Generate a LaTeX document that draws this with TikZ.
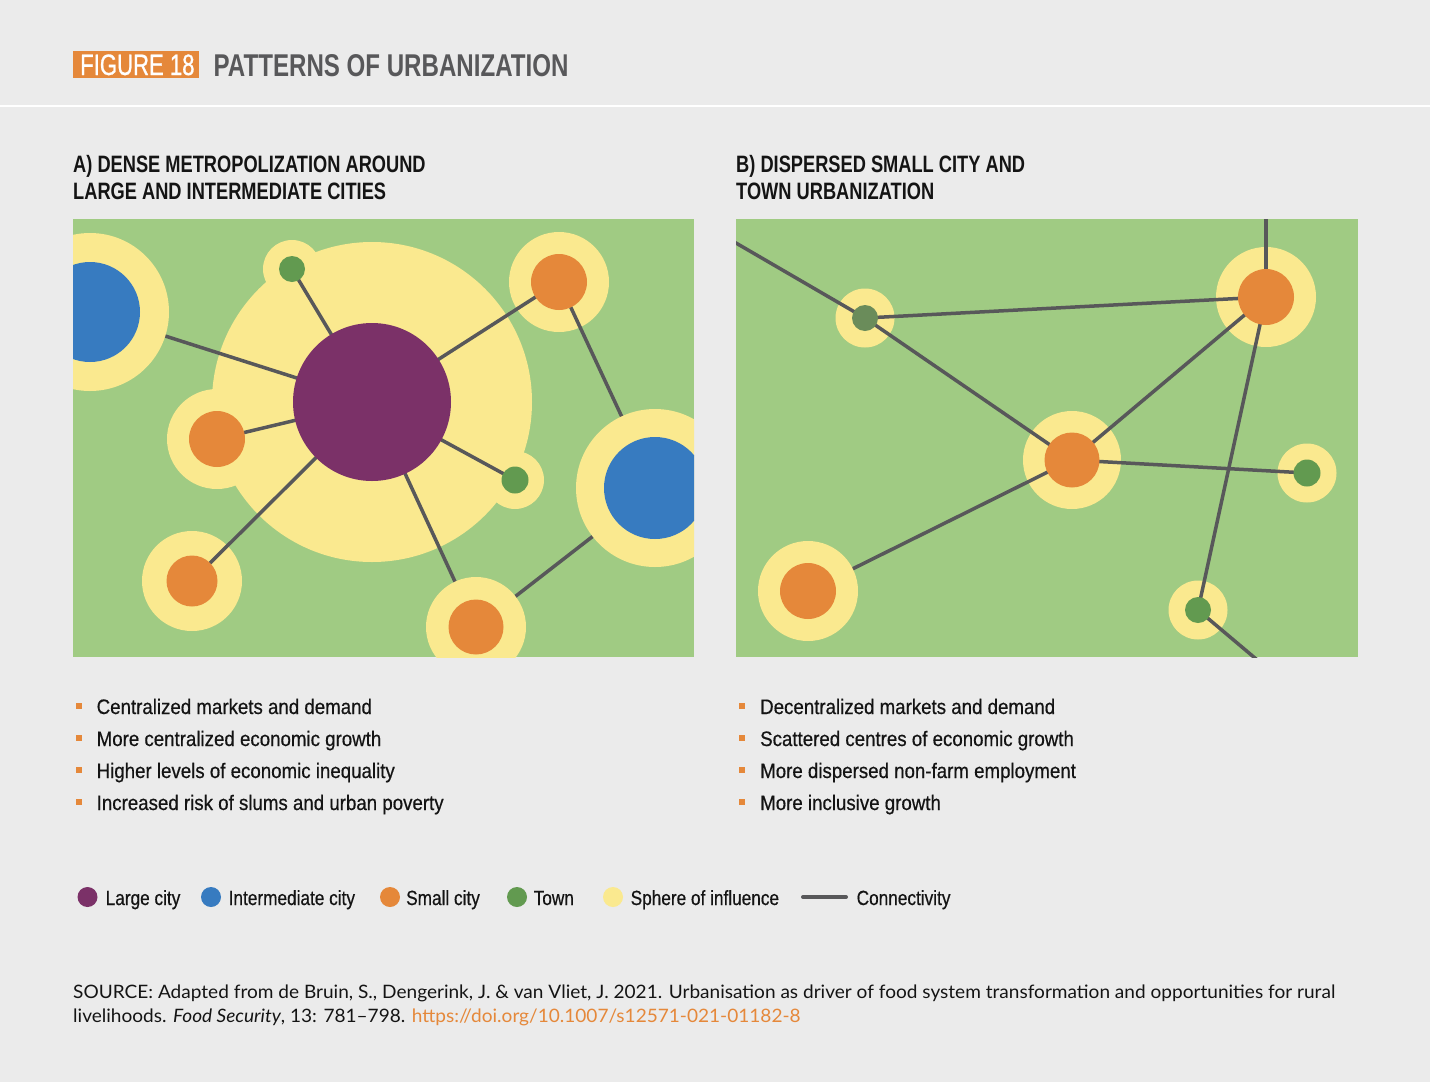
\documentclass[tikz,border=0pt]{standalone}
\usepackage{fontspec}
\setmainfont{Liberation Sans}
\newfontfamily\figfont{Liberation Sans}[FakeStretch=0.75,FakeBold=0.8]
\newfontfamily\titlefont{Liberation Sans}[FakeStretch=0.765]
\newfontfamily\headfont{Liberation Sans}[FakeStretch=0.77]
\newfontfamily\bodyfont{Liberation Sans}[FakeStretch=0.89,FakeBold=0.5]
\newfontfamily\legfont{Liberation Sans}[FakeStretch=0.84,FakeBold=0.5]
\newfontfamily\srcfont{Lato}[FakeStretch=1.03]
\definecolor{bgc}{HTML}{EBEBEB}
\definecolor{field}{HTML}{A0CB83}
\definecolor{yel}{HTML}{FAE98F}
\definecolor{purp}{HTML}{7B3168}
\definecolor{blu}{HTML}{377BC0}
\definecolor{ora}{HTML}{E5883A}
\definecolor{twn}{HTML}{629A50}
\definecolor{twnb}{HTML}{6A8C5A}
\definecolor{linec}{HTML}{58585A}
\definecolor{ink}{HTML}{141414}
\tikzset{
  sph/.style={circle,fill=yel,inner sep=0pt,minimum size=#1pt},
  core/.style={circle,inner sep=0pt,minimum size=#1pt},
  link/.style={draw=linec,line width=3.5pt},
  bodytxt/.style={anchor=base west,inner sep=0pt,text=ink,font=\bodyfont\fontsize{21}{25}\selectfont},
  legtxt/.style={anchor=base west,inner sep=0pt,text=ink,font=\legfont\fontsize{20.5}{25}\selectfont},
  headtxt/.style={anchor=base west,inner sep=0pt,text=ink,font=\headfont\bfseries\fontsize{23.7}{28}\selectfont},
  srctxt/.style={anchor=base west,inner sep=0pt,text=ink,font=\srcfont\fontsize{18.5}{22}\selectfont},
  bul/.style={fill=ora,inner sep=0pt,minimum size=6pt},
  legdot/.style={circle,inner sep=0pt,minimum size=20pt}
}
\begin{document}
\begin{tikzpicture}[x=1pt,y=-1pt]
\fill[bgc] (0,0) rectangle (1430,1082);
\useasboundingbox (0,0) rectangle (1430,1082);

% ---------- header ----------
\fill[ora] (73,51) rectangle (199,77.5);
\node[anchor=base west,inner sep=0pt,text=white,font=\figfont\fontsize{29.5}{32}\selectfont] (fig) at (80,75) {FIGURE 18};
\node[anchor=base west,inner sep=0pt,text=linec,font=\titlefont\bfseries\fontsize{31.5}{34}\selectfont] (ttl) at (213.5,76.5) {PATTERNS OF URBANIZATION};
\draw[white,line width=2.5pt] (0,106) -- (1430,106);

% ---------- panel headings ----------
\node[headtxt] (ha1) at (73,172) {A) DENSE METROPOLIZATION AROUND};
\node[headtxt] (ha2) at (73,199.5) {LARGE AND INTERMEDIATE CITIES};
\node[headtxt] (hb1) at (736,172) {B) DISPERSED SMALL CITY AND};
\node[headtxt] (hb2) at (736,199.5) {TOWN URBANIZATION};

% ---------- panel A: dense metropolization ----------
\begin{scope}
\clip (73,219) rectangle (694,657);
\fill[field] (73,219) rectangle (694,657);
\coordinate (L)  at (372,402);
\coordinate (I1) at (90,312);
\coordinate (I2) at (655,488);
\coordinate (T1) at (292,269);
\coordinate (T2) at (515,480);
\coordinate (S1) at (559,282);
\coordinate (S2) at (217,439);
\coordinate (S3) at (192,581);
\coordinate (S4) at (476,627);
% spheres of influence lying under the links
\node[sph=320] (zL)  at (L)  {};
\node[sph=58]  (zT1) at (T1) {};
\node[sph=58]  (zT2) at (T2) {};
\node[sph=100] (zS1) at (S1) {};
\node[sph=100] (zS2) at (S2) {};
\node[sph=100] (zS3) at (S3) {};
% connectivity
\draw[link] (L) -- (I1);
\draw[link] (L) -- (T1);
\draw[link] (L) -- (S1);
\draw[link] (L) -- (S2);
\draw[link] (L) -- (T2);
\draw[link] (L) -- (S3);
\draw[link] (L) -- (S4);
\draw[link] (S1) -- (I2);
\draw[link] (S4) -- (I2);
% spheres of influence lying over the links
\node[sph=158] (zI1) at (I1) {};
\node[sph=158] (zI2) at (I2) {};
\node[sph=100] (zS4) at (S4) {};
% settlements
\node[core=158,fill=purp] (cL)  at (L)  {};
\node[core=100,fill=blu]  (cI1) at (I1) {};
\node[core=102,fill=blu]  (cI2) at (I2) {};
\node[core=26,fill=twn]   (cT1) at (T1) {};
\node[core=27,fill=twn]   (cT2) at (T2) {};
\node[core=56,fill=ora]   (cS1) at (S1) {};
\node[core=56,fill=ora]   (cS2) at (S2) {};
\node[core=51,fill=ora]   (cS3) at (S3) {};
\node[core=55,fill=ora]   (cS4) at (S4) {};
\end{scope}

% ---------- panel B: dispersed small cities and towns ----------
\begin{scope}
\clip (736,219) rectangle (1358,657);
\fill[field] (736,219) rectangle (1358,657);
\coordinate (T3) at (865,318);
\coordinate (S5) at (1266,297);
\coordinate (S6) at (1072,460);
\coordinate (T4) at (1307,473);
\coordinate (S7) at (808,591);
\coordinate (T5) at (1198,610);
\coordinate (E1) at (716,231.4);
\coordinate (E2) at (1266,205);
\coordinate (E3) at (1265.6,667);
\node[sph=59]  (zT3) at (T3) {};
\node[sph=100] (zS5) at (S5) {};
\node[sph=98]  (zS6) at (S6) {};
\node[sph=59]  (zT4) at (T4) {};
\node[sph=59]  (zT5) at (T5) {};
\draw[link] (E1) -- (T3);
\draw[link] (T3) -- (S5);
\draw[link] (T3) -- (S6);
\draw[link] (E2) -- (S5);
\draw[link] (S5) -- (S6);
\draw[link] (S5) -- (T5);
\draw[link] (S6) -- (T4);
\draw[link] (S6) -- (S7);
\draw[link] (T5) -- (E3);
\node[sph=100] (zS7) at (S7) {};
\node[core=26,fill=twnb] (cT3) at (T3) {};
\node[core=56,fill=ora]  (cS5) at (S5) {};
\node[core=55,fill=ora]  (cS6) at (S6) {};
\node[core=27,fill=twn]  (cT4) at (T4) {};
\node[core=56,fill=ora]  (cS7) at (S7) {};
\node[core=26,fill=twn]  (cT5) at (T5) {};
\end{scope}

% ---------- bullet lists ----------
\foreach \t [count=\i] in {Centralized markets and demand,
                           More centralized economic growth,
                           Higher levels of economic inequality,
                           Increased risk of slums and urban poverty}{
  \node[bul] (ba\i) at (78.5,705.5+32*\i-32) {};
  \node[bodytxt] (ta\i) at (96.5,714+32*\i-32) {\t};
}
\foreach \t [count=\i] in {Decentralized markets and demand,
                           Scattered centres of economic growth,
                           More dispersed non-farm employment,
                           More inclusive growth}{
  \node[bul] (bb\i) at (742,705.5+32*\i-32) {};
  \node[bodytxt] (tb\i) at (760,714+32*\i-32) {\t};
}

% ---------- legend ----------
\node[legdot,fill=purp] (k1) at (87.5,897) {};
\node[legtxt] (l1) at (105.5,905) {Large city};
\node[legdot,fill=blu] (k2) at (211,897) {};
\node[legtxt] (l2) at (228.5,905) {Intermediate city};
\node[legdot,fill=ora] (k3) at (390,897) {};
\node[legtxt] (l3) at (406,905) {Small city};
\node[legdot,fill=twn] (k4) at (517,897) {};
\node[legtxt] (l4) at (533.5,905) {Town};
\node[legdot,fill=yel] (k5) at (613,897) {};
\node[legtxt] (l5) at (630.5,905) {Sphere of influence};
\coordinate (k6a) at (803,897);
\coordinate (k6b) at (846,897);
\draw[linec,line width=4pt,line cap=round] (k6a) -- (k6b);
\node[legtxt] (l6) at (856.5,905) {Connectivity};

% ---------- source ----------
\node[srctxt] (src1) at (73,998)
  {SOURCE: Adapted from de Bruin, S., Dengerink, J. \& van Vliet, J. 2021. Urbanisation as driver of food system transformation and opportunities for rural};
\node[srctxt] (src2) at (73,1022)
  {livelihoods. \textit{Food Security}, 13: 781\textendash 798. \textcolor{ora}{https://doi.org/10.1007/s12571-021-01182-8}};
\end{tikzpicture}
\end{document}
